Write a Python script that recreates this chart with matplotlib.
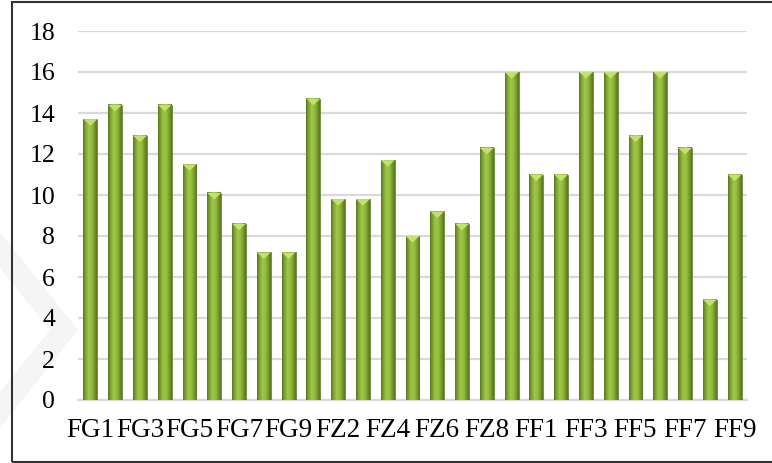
import numpy as np
import matplotlib
matplotlib.use("Agg")
import matplotlib.pyplot as plt
from matplotlib.patches import Rectangle, Polygon
from matplotlib.colors import LinearSegmentedColormap

# Sample groups and their measured values
categories = [f"FG{i}" for i in range(1, 10)] + \
             [f"FZ{i}" for i in range(1, 10)] + \
             [f"FF{i}" for i in range(1, 10)]
values = [13.7, 14.4, 12.9, 14.4, 11.5, 10.1, 8.6, 7.2, 7.2,
          14.7, 9.8, 9.8, 11.7, 8.0, 9.2, 8.6, 12.3, 16.0,
          11.0, 11.0, 16.0, 16.0, 12.9, 16.0, 12.3, 4.9, 11.0]
y_ticks = [0, 2, 4, 6, 8, 10, 12, 14, 16, 18]

plt.rcParams['font.family'] = ['Liberation Serif', 'DejaVu Serif']

W, H = 772, 463
fig = plt.figure(figsize=(W / 100, H / 100), dpi=100)

# faint chevron mark in the left margin, behind everything
fig.patches.append(Polygon(
    [[0, 1 - 232 / H], [0, 1 - 268 / H], [50 / W, 1 - 330 / H],
     [0, 1 - 392 / H], [0, 1 - 428 / H], [78 / W, 1 - 330 / H]],
    closed=True, transform=fig.transFigure, facecolor="#f5f5f5",
    edgecolor="none", zorder=-5))

ax = fig.add_axes([78 / W, 1 - 400 / H, (747 - 78) / W, (400 - 31) / H])
ax.patch.set_alpha(0)

x = np.arange(len(categories))
width = 0.56

# Horizontal shading to give each bar a rounded, cylindrical look
shade = LinearSegmentedColormap.from_list(
    "stem", ["#5a7a22", "#82a634", "#a0c846", "#96bf3f", "#7a9d2f", "#56751f"])
grad = np.linspace(0, 1, 64).reshape(1, -1)

for xi, v in zip(x, values):
    x0, x1 = xi - width / 2, xi + width / 2
    ax.imshow(grad, cmap=shade, aspect="auto", extent=(x0, x1, 0, v),
              origin="lower", zorder=3, interpolation="bicubic")
    ax.add_patch(Rectangle((x0, 0), width, v, fill=False,
                           edgecolor="#5f7d26", linewidth=0.6, zorder=4))
    # light conical cap at the top of the bar
    cap = 0.32
    ax.add_patch(Polygon([[x0, v], [x1, v], [xi, v - cap]], closed=True,
                         facecolor="#c4e070", edgecolor="none", zorder=5))

ax.set_xlim(-0.5, len(categories) - 0.5)
ax.set_ylim(0, 18)
ax.set_yticks(y_ticks)
ax.set_yticklabels([str(t) for t in y_ticks], fontsize=18.5)
ax.set_xticks(x[::2])
ax.set_xticklabels(categories[::2], fontsize=19.5)
ax.tick_params(axis="both", length=0)
ax.tick_params(axis="y", pad=16.5)
ax.tick_params(axis="x", pad=13)

ax.grid(axis="y", color="#d9d9d9", linewidth=1.6, zorder=0)
ax.set_axisbelow(True)
for side in ["top", "right", "left"]:
    ax.spines[side].set_visible(False)
ax.spines["bottom"].set_color("#d9d9d9")
ax.spines["bottom"].set_linewidth(1.6)

# Outer chart frame (open on the right side)
fig.patches.append(Rectangle((11.5 / W, 1.5 / H), 1.2, (461 - 1.5) / H,
                             transform=fig.transFigure, fill=False,
                             edgecolor="#333333", linewidth=1.5, zorder=10))

fig.savefig("out.png", dpi=100)
